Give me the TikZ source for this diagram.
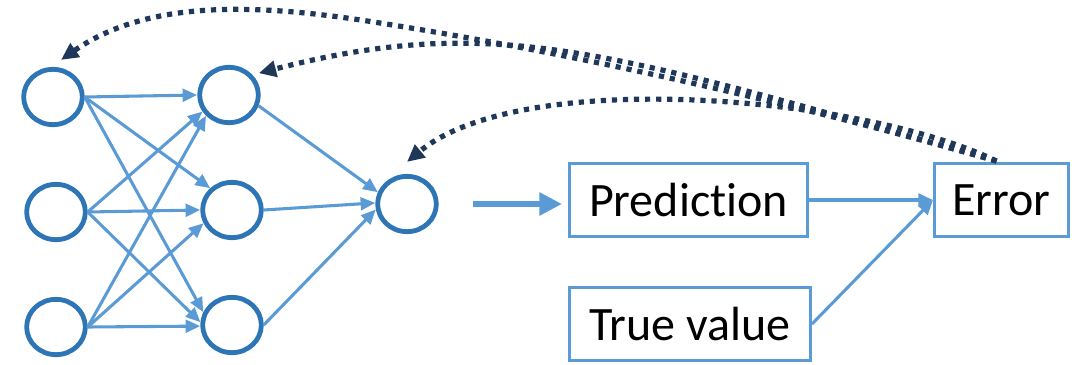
\documentclass[tikz,border=0pt]{standalone}
\usepackage{fontspec}
\setmainfont{Carlito}[Ligatures={NoCommon,NoDiscretionary,NoRare}]
\usetikzlibrary{arrows.meta,calc,shapes.geometric}
\definecolor{nodeblue}{RGB}{46,117,182}
\definecolor{linkblue}{RGB}{91,155,213}
\definecolor{navyback}{RGB}{31,56,90}
\begin{document}
\begin{tikzpicture}[x=0.75pt,y=-0.75pt,
  neuron/.style={ellipse,draw=nodeblue,line width=3.6pt,minimum width=44pt,minimum height=41.5pt,inner sep=0pt},
  box/.style={draw=linkblue,line width=2.2pt,minimum height=54.75pt,inner sep=0pt,font=\fontsize{36}{42}\selectfont},
  link/.style={draw=linkblue,line width=2.3pt,-{Triangle[length=11pt,width=9.5pt]}},
  backprop/.style={draw=navyback,line width=3.9pt,dash pattern=on 3.9pt off 4.4pt,-{Triangle[length=13pt,width=12pt]}},
  fatlink/.style={draw=linkblue,line width=5pt,-{Triangle[length=17pt,width=16.5pt]}}]
\useasboundingbox (0,0) rectangle (1077,364);

% neurons
\node[neuron] (I1) at (53,97) {};
\node[neuron] (I2) at (56,212) {};
\node[neuron] (I3) at (56,327) {};
\node[neuron] (H1) at (229,95) {};
\node[neuron] (H2) at (232,210) {};
\node[neuron] (H3) at (232,325) {};
\node[neuron] (O) at (407,204) {};

% boxes
\node[box,minimum width=178.5pt] (P) at (688.5,200) {Prediction};
\node[box,minimum width=100.5pt] (E) at (1001.5,200) {Error};
\node[box,minimum width=180.75pt] (T) at (690,324) {True value};

% input -> hidden
\draw[link] (I1.east) -- (H1.west);
\draw[link] (I1.east) -- (H2.135);
\draw[link] (I1.east) -- (H3.156);
\draw[link] (I2.east) -- (H1.212);
\draw[link] (I2.east) -- (H2.west);
\draw[link] (I2.east) -- (H3.175);
\draw[link] (I3.east) -- (H1.222);
\draw[link] (I3.east) -- (H2.205);
\draw[link] (I3.east) -- (H3.182);

% hidden -> output
\draw[link] (H1.-20) -- (O.158);
\draw[link] (H2.east) -- (O.178);
\draw[link] (H3.east) -- (O.190);

% output -> prediction
\draw[fatlink,shorten <=26pt,shorten >=4.5pt] (O.east) -- (O.east -| P.west);

% prediction / true value -> error
\draw[link] (P.east) -- (E.west);
\draw[link] (T.east) -- (E.west);

% back-propagation arrows
\coordinate (Es) at ($(E.north)+(-5,-1)$);
\coordinate (c1) at ($(I1.north)+(8,-7)$);
\coordinate (c2) at ($(H1.45)+(8,0)$);
\coordinate (c3) at ($(O.north)+(0,-12)$);
\draw[backprop] (Es) .. controls (793,103) and (588,56) .. (380,23)
                     .. controls (262,4) and (150,-2) .. (c1);
\draw[backprop] (Es) .. controls (610,51) and (494,12.5) .. (c2);
\draw[backprop] (Es) .. controls (860,95.5) and (521.5,67) .. (c3);
\end{tikzpicture}
\end{document}
